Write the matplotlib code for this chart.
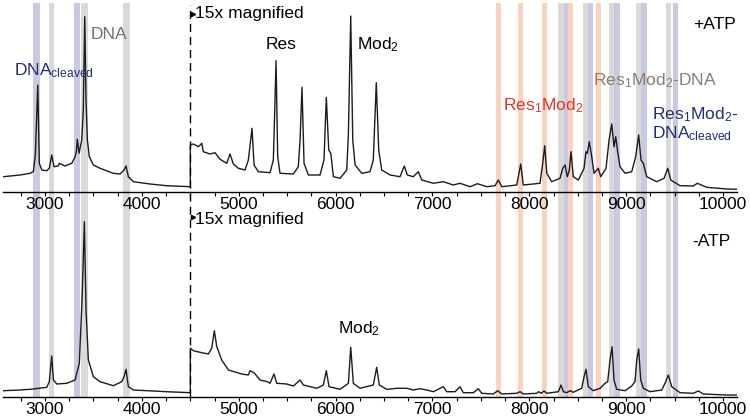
import matplotlib
matplotlib.use("Agg")
import matplotlib.pyplot as plt
from matplotlib.patches import Rectangle
from matplotlib.lines import Line2D
from matplotlib.transforms import blended_transform_factory
from matplotlib.ticker import MultipleLocator

plt.rcParams['font.family'] = ['Liberation Sans', 'DejaVu Sans']
plt.rcParams['mathtext.default'] = 'regular'

# ---------------- data (m/z, displayed intensity) ----------------
# +ATP, unmagnified region (< 4500)
top_left_mz = [2570, 2742, 2845, 2879, 2900, 2925, 2941, 2966, 3018, 3044, 3069, 3093, 3137, 3148,
               3206, 3276, 3310, 3323, 3333, 3351, 3379, 3395, 3410, 3423, 3437, 3457, 3499, 3568,
               3705, 3774, 3816, 3836, 3860, 3912, 4084, 4256, 4500]
top_left_int = [15, 16.7, 18.4, 20, 36.7, 106.7, 28.4, 21.7, 21, 23.4, 36.7, 25, 25.7, 28.4,
                25.7, 28.4, 35, 40, 52.4, 38.4, 51.7, 81.7, 175, 91.7, 51.7, 35, 26.7, 23.4,
                18.4, 17.7, 21.7, 25.7, 15, 10, 7.7, 6, 5]
# +ATP, 15x magnified region (>= 4500)
top_right_mz = [4500, 4531, 4583, 4618, 4634, 4703, 4755, 4807, 4876, 4910, 4944, 4996, 5065, 5099,
                5137, 5158, 5202, 5323, 5357, 5368, 5385, 5402, 5426, 5564, 5615, 5633, 5653, 5674,
                5718, 5839, 5880, 5904, 5929, 5950, 5977, 6046, 6115, 6132, 6156, 6177, 6201, 6270,
                6355, 6389, 6420, 6445, 6476, 6562, 6665, 6709, 6740, 6802, 6854, 6889, 7009, 7112,
                7215, 7284, 7388, 7465, 7560, 7646, 7680, 7715, 7870, 7911, 7938, 8110, 8138, 8159,
                8180, 8231, 8317, 8345, 8369, 8392, 8413, 8430, 8454, 8506, 8565, 8585, 8599, 8619,
                8644, 8668, 8712, 8737, 8792, 8823, 8851, 8874, 8892, 8912, 8936, 8988, 9057, 9098,
                9129, 9153, 9177, 9212, 9315, 9391, 9429, 9460, 9556, 9693, 9734, 9831, 10038, 10141]
top_right_int = [46.7, 47.7, 45, 48.4, 40, 37.7, 39, 32.4, 28.4, 37.7, 27.7, 23.4, 21.7, 31.7,
                 63.4, 26.7, 20, 19, 31.7, 68.4, 131, 35, 18.4, 17.7, 25, 51.7, 104.4, 28.4,
                 16.7, 16.7, 31.7, 94.4, 41.7, 38.4, 15, 13.4, 21.7, 58.4, 175.7, 51.7, 26.7, 18.4,
                 20, 31.7, 109, 41.7, 21.7, 16.7, 15, 25.7, 16.7, 15, 20, 11.7, 8.4, 10,
                 6.7, 8.4, 5, 8, 5, 6, 11.7, 5, 6.7, 27.7, 6.7, 8.4, 28.4, 46,
                 18.4, 10, 13.4, 23.4, 26.7, 15, 21.7, 40, 15, 11.7, 23.4, 40, 38.4, 50,
                 35, 18.4, 23.4, 15, 23.4, 51.7, 67.7, 45, 55, 40, 25, 18.4, 20, 35,
                 56.7, 31.7, 28.4, 15, 10, 13.4, 23.4, 11.7, 6, 5.7, 8.4, 4.4, 2.7, 2.4]

# -ATP, unmagnified region
bot_left_mz = [2570, 2742, 2879, 3018, 3044, 3069, 3086, 3121, 3224, 3310, 3354, 3382, 3406, 3423,
               3447, 3499, 3568, 3705, 3792, 3816, 3836, 3860, 3912, 4256, 4500]
bot_left_int = [6, 6.7, 7.7, 9.4, 15, 40.7, 16.7, 12.7, 13.4, 16.7, 33.4, 96.7, 175, 86.7,
                36.7, 20, 15, 11, 15, 20, 27.4, 10, 6.7, 5, 4]
# -ATP, 15x magnified region
bot_right_mz = [4500, 4531, 4618, 4686, 4721, 4748, 4773, 4824, 4893, 5031, 5099, 5116, 5158, 5220,
                5295, 5323, 5364, 5392, 5495, 5564, 5633, 5667, 5805, 5873, 5904, 5932, 6046, 6132,
                6156, 6183, 6252, 6389, 6424, 6451, 6528, 6631, 6734, 6802, 6871, 6941, 7009, 7112,
                7147, 7233, 7284, 7318, 7422, 7473, 7508, 7628, 7674, 7715, 7870, 7904, 7938, 8076,
                8097, 8121, 8152, 8180, 8300, 8327, 8351, 8386, 8420, 8454, 8541, 8565, 8585, 8609,
                8661, 8730, 8782, 8809, 8833, 8854, 8874, 8902, 8988, 9057, 9091, 9109, 9129, 9150,
                9177, 9246, 9367, 9401, 9435, 9470, 9556, 9693, 9745, 9797, 10038, 10141]
bot_right_int = [48.4, 46, 44, 42.7, 48.4, 66, 50, 36.7, 26.7, 22.7, 21.7, 26, 24, 16.7,
                 15, 13.4, 22.7, 13.4, 12.7, 10.7, 16.7, 11.7, 8.4, 11.7, 26, 10, 7.4, 13.4,
                 49.4, 13.4, 8.4, 11.7, 29.4, 11.7, 7.4, 8.4, 8.4, 6.7, 8, 6.7, 5, 10,
                 5, 5, 10, 4, 4, 8, 3.4, 2.7, 6, 2.7, 3.4, 5, 2.7, 3.4,
                 5, 3.4, 5.7, 3.4, 5, 11.7, 5, 4, 6, 4.4, 8.4, 20, 27.4, 10,
                 6, 8.4, 13.4, 15, 36.7, 50, 16.7, 7.4, 6, 10.7, 15, 36.7, 47.7, 16.7,
                 8.4, 5, 6.7, 13.4, 21.7, 10, 4, 3.4, 5.7, 2.7, 1.7, 1.7]

# highlighted m/z windows
blue_bands = [(2878, 2948), (3300, 3361), (8355, 8404), (8608, 8660), (8877, 8932),
              (9156, 9215), (9483, 9531)]
grey_bands = [(3041, 3096), (3369, 3441), (3808, 3878), (8300, 8355), (8557, 8608),
              (8825, 8877), (9104, 9156), (9414, 9463)]
salmon_bands = [(7656, 7704), (7886, 7931), (8131, 8183), (8404, 8452), (8690, 8738)]

magnify_start = 4500
xticks_major = [3000, 4000, 5000, 6000, 7000, 8000, 9000, 10000]

# ---------------- figure ----------------
W, H = 750, 417
fig = plt.figure(figsize=(W / 100, H / 100), dpi=100)

def fx(px):
    return px / W

def fy(py):
    return (H - py) / H

top_y0, top_y1 = 3, 191.7
bot_y0, bot_y1 = 205, 396.7
x0, x1 = 3, 737

ax_top = fig.add_axes([fx(x0), fy(top_y1), fx(x1 - x0), (top_y1 - top_y0) / H])
ax_bot = fig.add_axes([fx(x0), fy(bot_y1), fx(x1 - x0), (bot_y1 - bot_y0) / H])
ax_top.set_zorder(2)
ax_bot.set_zorder(1)

for ax, ytop in ((ax_top, top_y1 - top_y0), (ax_bot, bot_y1 - bot_y0)):
    ax.set_xlim(2566, 10144)
    ax.set_ylim(0, ytop)
    ax.patch.set_alpha(0)
    for s in ('left', 'right', 'top'):
        ax.spines[s].set_visible(False)
    ax.spines['bottom'].set_linewidth(1.0)
    ax.set_yticks([])
    ax.set_xticks(xticks_major)
    ax.xaxis.set_minor_locator(MultipleLocator(250))
    ax.tick_params(axis='x', which='both', direction='out', length=2.6, width=0.8,
                   labelsize=12.5, pad=1.0, colors='black')

# bands spanning both panels
blend = blended_transform_factory(ax_top.transData, fig.transFigure)
for bands, col in ((blue_bands, '#c9c9e1'), (grey_bands, '#dadada'), (salmon_bands, '#fbd1bf')):
    for lo, hi in bands:
        fig.add_artist(Rectangle((lo, fy(bot_y1)), hi - lo, fy(top_y0) - fy(bot_y1),
                                 transform=blend, facecolor=col, edgecolor='none', zorder=-1))

# spectra
line_col = '#1c1c1c'
ax_top.plot(top_left_mz + top_right_mz, top_left_int + top_right_int, color=line_col, lw=1.0,
            zorder=3, solid_joinstyle='round')
ax_bot.plot(bot_left_mz + bot_right_mz, bot_left_int + bot_right_int, color=line_col, lw=1.0,
            zorder=3, solid_joinstyle='round')

# dashed separator across both panels
fig.add_artist(Line2D([magnify_start, magnify_start], [fy(bot_y1), fy(5)], transform=blend,
                      color='black', lw=1.0, linestyle=(0, (5.8, 3.6)), zorder=5))
# small pointer marks at the separator
for ax, yy in ((ax_top, 177.5), (ax_bot, 180.0)):
    ax.plot([magnify_start + 25], [yy], marker='>', markersize=3, color='black', zorder=6,
            clip_on=False)

# labels
fs = 12.5
ax_top.text(2680, 116.7, r'DNA$_{cleaved}$', color='#252d72', fontsize=fs, ha='left', va='baseline')
ax_top.text(3472, 152.7, 'DNA', color='#707070', fontsize=fs, ha='left', va='baseline')
ax_top.text(4545, 173.7, '15x magnified', color='black', fontsize=fs, ha='left', va='baseline')
ax_top.text(5281, 142.4, 'Res', color='black', fontsize=fs, ha='left', va='baseline')
ax_top.text(6221, 142.4, r'Mod$_2$', color='black', fontsize=fs, ha='left', va='baseline')
ax_top.text(9690, 162.4, '+ATP', color='black', fontsize=fs, ha='left', va='baseline')
ax_top.text(7728, 81.7, r'Res$_1$Mod$_2$', color='#e2352b', fontsize=fs, ha='left', va='baseline')
ax_top.text(8658, 106.7, r'Res$_1$Mod$_2$-DNA', color='#8a7c70', fontsize=fs, ha='left', va='baseline')
ax_top.text(9267, 72.0, r'Res$_1$Mod$_2$-', color='#252d72', fontsize=fs, ha='left', va='baseline')
ax_top.text(9267, 53.5, r'DNA$_{cleaved}$', color='#252d72', fontsize=fs, ha='left', va='baseline')

ax_bot.text(4545, 172.5, '15x magnified', color='black', fontsize=fs, ha='left', va='baseline')
ax_bot.text(6025, 63.4, r'Mod$_2$', color='black', fontsize=fs, ha='left', va='baseline')
ax_bot.text(9680, 150.7, '-ATP', color='black', fontsize=fs, ha='left', va='baseline')

fig.savefig('out.png', dpi=100)
